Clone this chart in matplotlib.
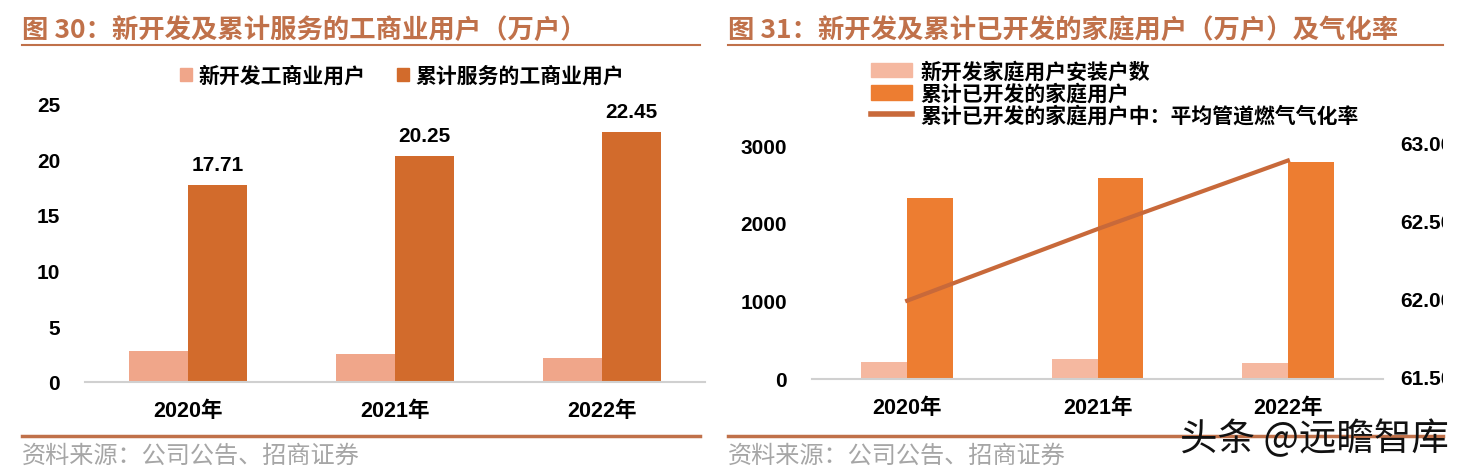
import matplotlib
matplotlib.use("Agg")
import matplotlib.pyplot as plt
from matplotlib.patches import Patch
from matplotlib.lines import Line2D
from matplotlib.transforms import Bbox, TransformedBbox
import numpy as np

plt.rcParams['font.family'] = ['Liberation Sans', 'Noto Sans CJK SC', 'DejaVu Sans']

# ---- data ----
years = ['2020年', '2021年', '2022年']

# 图30
new_biz = [2.76, 2.49, 2.13]
total_biz = [17.71, 20.25, 22.45]
left_yticks = [0, 5, 10, 15, 20, 25]

# 图31
new_home = [218, 248, 197]
total_home = [2320, 2577, 2783]
gas_rate = [62.00, 62.46, 62.90]
right_yticks = [0, 1000, 2000, 3000]
rate_ticks = [61.5, 62.0, 62.5, 63.0]

title_c = '#C0714A'
W, H = 1465, 477
fig = plt.figure(figsize=(W / 100, H / 100), dpi=100)

def fx(px):
    return px / W

def fy(py):
    return 1 - py / H

cjk = ['Noto Sans CJK SC', 'DejaVu Sans']
num = ['Liberation Sans', 'Noto Sans CJK SC']

# titles, rules, source
fig.text(fx(22), fy(30), '图 30：新开发及累计服务的工商业用户（万户）', color=title_c,
         fontsize=19, fontweight='bold', family=cjk, va='center', ha='left')
fig.text(fx(728), fy(30), '图 31：新开发及累计已开发的家庭用户（万户）及气化率', color=title_c,
         fontsize=19, fontweight='bold', family=cjk, va='center', ha='left')
for x0, x1 in [(22, 700), (728, 1443)]:
    fig.add_artist(Line2D([fx(x0), fx(x1)], [fy(46), fy(46)], color=title_c, lw=1.5))
    fig.add_artist(Line2D([fx(x0), fx(x1)], [fy(437), fy(437)], color=title_c, lw=2.5))
fig.text(fx(22), fy(456), '资料来源：公司公告、招商证券', color='#A6A6A6', fontsize=17.4,
         family=cjk, va='center', ha='left')
fig.text(fx(728), fy(456), '资料来源：公司公告、招商证券', color='#A6A6A6', fontsize=17.4,
         family=cjk, va='center', ha='left')
fig.text(fx(1180), fy(440), '头条 @远瞻智库', color='#111111', fontsize=27,
         family=cjk, va='center', ha='left')

# ---- left chart ----
ax = fig.add_axes([fx(85), fy(383), fx(705) - fx(85), fy(104.5) - fy(383)])
x = np.arange(len(years))
w = 0.285
c_light, c_dark = '#F0A68A', '#D26B2C'
ax.bar(x - w / 2, new_biz, w, color=c_light)
bars = ax.bar(x + w / 2, total_biz, w, color=c_dark)
for b, v in zip(bars, total_biz):
    ax.annotate(f'{v:.2f}', (b.get_x() + b.get_width() / 2, v), xytext=(0, 8),
                textcoords='offset points', ha='center', va='bottom',
                fontsize=15, fontweight='bold', family=num)
ax.set_xlim(-0.5, 2.5)
ax.set_ylim(0, 25)
ax.set_yticks(left_yticks)
ax.set_xticks(x)
ax.set_xticklabels(years, fontsize=15.5, fontweight='bold', family=num)
for lab in ax.get_yticklabels():
    lab.set_fontsize(15)
    lab.set_fontweight('bold')
for s in ['top', 'right', 'left']:
    ax.spines[s].set_visible(False)
ax.spines['bottom'].set_color('#D0D0D0')
ax.spines['bottom'].set_linewidth(1.5)
ax.tick_params(length=0)
ax.tick_params(axis='y', pad=18)
ax.tick_params(axis='x', pad=13)
ax.legend(handles=[Patch(color=c_light, label='新开发工商业用户'),
                   Patch(color=c_dark, label='累计服务的工商业用户')],
          loc='center', bbox_to_anchor=(fx(402), fy(76)), bbox_transform=fig.transFigure,
          ncol=2, frameon=False, handlelength=0.6, handleheight=0.6,
          handletextpad=0.3, columnspacing=1.5, prop={'family': cjk, 'size': 15, 'weight': 'bold'})

# ---- right chart ----
ax1 = fig.add_axes([fx(812), fy(379.5), fx(1383) - fx(812), fy(146) - fy(379.5)])
w2 = 0.24
r_light, r_dark, r_line = '#F5B8A0', '#ED7D31', '#C8693A'
ax1.bar(x - w2 / 2, new_home, w2, color=r_light)
ax1.bar(x + w2 / 2, total_home, w2, color=r_dark)
ax1.set_xlim(-0.5, 2.5)
ax1.set_ylim(0, 3000)
ax1.set_yticks(right_yticks)
ax1.set_xticks(x)
ax1.set_xticklabels(years, fontsize=15.5, fontweight='bold', family=num)
for lab in ax1.get_yticklabels():
    lab.set_fontsize(15)
    lab.set_fontweight('bold')
for s in ['top', 'right', 'left']:
    ax1.spines[s].set_visible(False)
ax1.spines['bottom'].set_color('#D0D0D0')
ax1.spines['bottom'].set_linewidth(1.5)
ax1.tick_params(length=0)
ax1.tick_params(axis='y', pad=18)
ax1.tick_params(axis='x', pad=13)

ax2 = ax1.twinx()
ax2.plot(x, gas_rate, color=r_line, lw=3)
ax2.set_ylim(61.5, 63.0)
ax2.set_yticks(rate_ticks)
ax2.set_yticklabels([])
ax2.tick_params(length=0)
for s in ['top', 'right', 'left', 'bottom']:
    ax2.spines[s].set_visible(False)
# the reference crops these labels at the panel edge
clip = TransformedBbox(Bbox.from_extents(0, 0, fx(1443), 1), fig.transFigure)
for t in rate_ticks:
    txt = ax2.text(1.0 + (1400 - 1383) / (1383 - 812), t, f'{t:.2f}%',
                   transform=ax2.get_yaxis_transform(),
                   ha='left', va='center', fontsize=15, fontweight='bold', family=num)
    txt.set_clip_box(clip)
    txt.set_clip_on(True)

ax1.legend(handles=[Patch(color=r_light, label='新开发家庭用户安装户数'),
                    Patch(color=r_dark, label='累计已开发的家庭用户'),
                    Line2D([], [], color=r_line, lw=4, label='累计已开发的家庭用户中：平均管道燃气气化率')],
           loc='center left', bbox_to_anchor=(fx(852), fy(94)), bbox_transform=fig.transFigure,
           frameon=False, handlelength=2.0, handleheight=0.7, handletextpad=0.4,
           labelspacing=0.05, prop={'family': cjk, 'size': 15, 'weight': 'bold'})

fig.savefig('out.png', dpi=100)
